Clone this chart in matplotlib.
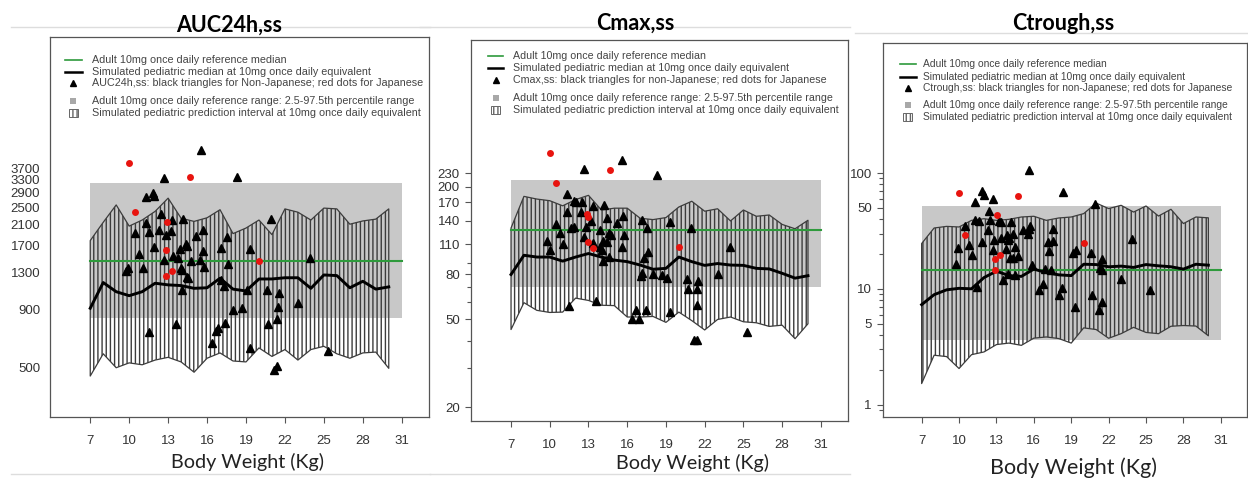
import matplotlib
matplotlib.use("Agg")
import matplotlib.pyplot as plt
from matplotlib.lines import Line2D
from matplotlib.patches import Rectangle
from matplotlib.ticker import NullFormatter

plt.rcParams["hatch.linewidth"] = 1.0
plt.rcParams["font.family"] = ["Liberation Sans", "DejaVu Sans"]

# ---- data ----
SIM_WT = [7, 8, 9, 10, 11, 12, 13, 14, 15, 16, 17, 18, 19, 20, 21, 22, 23, 24, 25, 26, 27, 28, 29, 30]
REF_X = [7, 31]
XTICKS = [7, 10, 13, 16, 19, 22, 25, 28, 31]

# AUC24h,ss
auc_upper = [1790, 2150, 2560, 2070, 2200, 2400, 2740, 2240, 2170, 2250, 2440, 1920,
             2030, 2200, 1900, 2460, 2380, 2200, 2480, 2460, 2110, 2180, 2220, 2460]
auc_lower = [460, 575, 500, 525, 515, 540, 555, 530, 478, 550, 580, 535,
             530, 610, 560, 600, 540, 600, 620, 575, 550, 580, 585, 497]
auc_median = [908, 1175, 1072, 1030, 1072, 1167, 1148, 1140, 1109, 1115, 1227, 1100,
              1080, 1218, 1218, 1233, 1233, 1109, 1268, 1260, 1115, 1190, 1100, 1125]
auc_ref = {"median": 1460, "lo": 826, "hi": 3200}
auc_jp_wt = [9.95, 14.7, 10.47, 12.95, 12.85, 19.99, 13.29, 12.85]
auc_jp_val = [3914, 3401, 2386, 2165, 1635, 1459, 1324, 1255]
auc_nj_wt = [15.57, 12.67, 18.29, 11.29, 11.8, 11.95, 12.42, 11.29, 13.31, 14.14, 20.91, 15.70,
             12.26, 13.21, 11.54, 10.47, 12.8, 15.16, 17.52, 14.44, 14.37, 11.88, 17.09, 19.32,
             13.93, 10.77, 15.65, 13.37, 13.8, 12.7, 15.47, 14.8, 23.94, 17.6, 15.78, 9.9,
             9.72, 11.03, 13.99, 14.08, 14.57, 14.47, 17.09, 17.29, 14.08, 19.06, 20.6, 21.53,
             23.04, 21.45, 17.99, 18.73, 21.4, 13.6, 20.7, 17.42, 16.88, 16.7, 11.49, 16.4,
             19.32, 25.35, 21.37, 21.19]
auc_nj_val = [4461, 3344, 3390, 2764, 2877, 2790, 2330, 2129, 2204, 2215, 2226, 1998,
              1984, 1977, 1943, 1925, 1889, 1883, 1855, 1701, 1725, 1683, 1660, 1652,
              1652, 1565, 1616, 1528, 1500, 1474, 1474, 1459, 1500, 1415, 1380, 1360,
              1324, 1365, 1360, 1330, 1234, 1245, 1211, 1135, 1086, 1095, 1095, 1053,
              954, 915, 889, 913, 812, 775, 775, 784, 742, 725, 713, 638,
              607, 593, 508, 489]
auc_yticks = [500, 900, 1300, 1700, 2100, 2500, 2900, 3300, 3700]

# Cmax,ss
cmax_upper = [130, 181, 176, 173, 164, 175, 183, 157, 160, 160, 144, 142,
              145, 162, 172, 155, 159, 140, 157, 147, 149, 135, 129, 141]
cmax_lower = [45, 59.6, 55, 53.8, 54, 62.5, 61, 58, 57.8, 51.3, 51.3, 51.6,
              48.5, 54, 49.4, 44.8, 50, 51.3, 48.8, 48.3, 46.5, 47.1, 40.9, 47.8]
cmax_median = [80, 97.8, 96, 96, 92, 96, 99.6, 96, 93, 91.5, 88.3, 84.5,
               85.3, 96, 91.5, 88, 89.7, 88.3, 88, 85.3, 84.8, 81, 77, 79]
cmax_ref = {"median": 128, "lo": 70.2, "hi": 214}
cmax_jp_wt = [10.02, 14.69, 10.48, 12.86, 13.0, 12.96, 13.32, 19.98]
cmax_jp_val = [285, 238, 209, 150, 146, 112.5, 106, 106.6]
cmax_nj_wt = [15.62, 12.68, 18.33, 11.31, 11.88, 12.03, 12.52, 13.32, 14.22, 11.31, 12.39, 15.70,
              14.43, 17.12, 19.32, 10.48, 15.21, 13.22, 20.91, 11.62, 11.85, 17.5, 13.89, 12.78,
              10.8, 15.78, 14.56, 14.74, 12.68, 9.76, 13.37, 14.1, 14.46, 23.93, 15.62, 11.05,
              13.92, 10.0, 17.58, 14.03, 14.61, 17.3, 14.12, 23.03, 17.04, 17.96, 18.71, 19.06,
              17.12, 20.6, 21.5, 20.7, 21.37, 21.37, 11.52, 13.58, 16.7, 17.47, 19.32, 16.39,
              16.9, 25.3, 21.17, 21.43]
cmax_nj_val = [266, 240, 227, 185, 173, 171, 170, 163, 165, 153, 153, 148,
               145, 141, 138, 136, 136.5, 140, 130, 130, 131, 130, 127, 131,
               123, 121, 123, 121, 117.8, 114, 111, 114, 112, 106.6, 106.6, 110,
               107, 103, 101, 103, 96, 94.8, 92, 80, 79, 80, 79.5, 77,
               81, 76, 75, 69, 68.6, 58, 57.6, 60.4, 55.2, 55.2, 54, 50,
               50, 43.8, 40.2, 40.2]
cmax_yticks = [20, 50, 80, 110, 140, 170, 200, 230]
cmax_yminor = [30, 40, 60, 70, 90]

# Ctrough,ss
ctr_upper = [24.6, 33.5, 34.6, 34.2, 39, 40.3, 39, 39.8, 41.7, 42.3, 39, 40.9,
             41.7, 44.6, 55, 49.3, 52.6, 46, 51.9, 42.5, 48.6, 36.6, 41.7, 41]
ctr_lower = [1.52, 2.67, 2.6, 2.05, 2.7, 2.85, 3.3, 3.4, 3.25, 3.75, 3.84, 3.72,
             3.4, 4.6, 4.45, 3.74, 4.1, 4.65, 4.2, 4.1, 4.75, 4.82, 4.77, 3.93]
ctr_median = [7.3, 8.9, 9.8, 10.1, 10.0, 12.5, 14.2, 13.0, 12.8, 14.8, 13.8, 13.2,
              13.0, 16.3, 16.2, 15.5, 15.7, 15.3, 16.2, 15.8, 15.5, 14.8, 16.3, 16.0]
ctr_ref = {"median": 14.4, "lo": 3.59, "hi": 51.9}
ctr_jp_wt = [9.99, 14.7, 13.01, 10.47, 19.99, 13.3, 12.88, 12.88]
ctr_jp_val = [67.6, 62.9, 43.1, 29, 24.9, 19.5, 18, 14.4]
ctr_nj_wt = [15.6, 11.81, 18.3, 12.0, 12.69, 11.28, 20.9, 12.43, 11.28, 11.6, 10.47, 12.46,
             13.23, 13.33, 14.16, 12.29, 15.15, 15.6, 15.7, 17.5, 15.5, 14.35, 13.81, 13.36,
             14.03, 12.8, 10.82, 11.86, 17.1, 17.55, 13.95, 14.5, 13.76, 12.69, 9.94, 17.2,
             19.16, 19.35, 23.9, 11.03, 20.6, 14.7, 14.1, 14.35, 21.48, 9.75, 15.82, 16.89,
             17.37, 21.48, 21.3, 13.95, 14.5, 13.55, 23.03, 16.7, 11.46, 18.25, 16.4, 25.3,
             17.98, 20.7, 21.43, 19.32, 21.22]
ctr_nj_val = [106.9, 69.5, 68.5, 64, 60, 56, 54.4, 46.7, 39, 38.5, 34.9, 39.5,
              38.5, 37.7, 37.7, 32, 32.4, 33, 34.9, 33, 30, 30, 29, 27.6,
              27.6, 26.6, 24, 25.4, 25.4, 26, 26.6, 23, 22.2, 21.8, 22.5, 21.1,
              20.5, 21.8, 26.7, 19.7, 20.2, 19.1, 18.5, 18.5, 18.2, 16.5, 16.2, 14.7,
              14.4, 14.6, 15.2, 13.3, 13.1, 12, 12.2, 11.1, 10.4, 10.2, 9.7, 9.8,
              8.8, 8.8, 7.7, 6.9, 6.5]
ctr_yticks = [1, 5, 10, 50, 100]
ctr_yminor = [0.9, 2, 3, 4, 6, 7, 8, 9, 20, 30, 40, 60, 70, 80, 90]

# ---- style ----
GREY = "#c8c8c8"
GREEN = "#2e9a3c"
EDGE = "#3c3c3c"
SPINE = "#555555"
TXT = "#444444"
TITLE_FONT = ["Lato", "DejaVu Sans"]

W, H = 1248, 480
fig = plt.figure(figsize=(W / 100, H / 100), dpi=100)


def px_axes(left, top, right, bottom):
    return fig.add_axes([left / W, 1 - bottom / H, (right - left) / W, (bottom - top) / H])


def draw_key(ax, name, hx0, hx1, tx, rows, size):
    labels = [
        "Adult 10mg once daily reference median",
        "Simulated pediatric median at 10mg once daily equivalent",
        f"{name}: black triangles for {'Non' if name.startswith('AUC') else 'non'}-Japanese; red dots for Japanese",
        "Adult 10mg once daily reference range: 2.5-97.5th percentile range",
        "Simulated pediatric prediction interval at 10mg once daily equivalent",
    ]
    tr = ax.transAxes
    mid = (hx0 + hx1) / 2
    ax.plot([hx0, hx1], [rows[0]] * 2, color=GREEN, lw=1.2, transform=tr, clip_on=False)
    ax.plot([hx0, hx1], [rows[1]] * 2, color="k", lw=1.8, transform=tr, clip_on=False)
    ax.plot([mid], [rows[2]], marker="^", color="k", ms=5, transform=tr, clip_on=False)
    sq_w, sq_h = 6 / ax.bbox.width, 6 / ax.bbox.height
    ax.add_patch(Rectangle((mid - sq_w / 2, rows[3] - sq_h / 2), sq_w, sq_h,
                           transform=tr, color="#a8a8a8", lw=0, clip_on=False))
    hw, hh = 9 / ax.bbox.width, 8 / ax.bbox.height
    ax.add_patch(Rectangle((mid - hw / 2, rows[4] - hh / 2), hw, hh, transform=tr,
                           facecolor="white", edgecolor="#666666", hatch="||||", lw=0.7,
                           clip_on=False))
    for y, lab in zip(rows, labels):
        ax.text(tx, y, lab, transform=tr, fontsize=size, color=TXT, va="center", ha="left")


def draw_panel(ax, upper, lower, median, ref, nj_wt, nj_val, jp_wt, jp_val,
               ylim, yticks, yminor, tick_len):
    ax.set_yscale("log")
    ax.fill_between(REF_X, ref["lo"], ref["hi"], color=GREY, lw=0, zorder=1)
    ax.fill_between(SIM_WT, lower, upper, facecolor="none", edgecolor=EDGE,
                    hatch="||||", lw=0.9, zorder=2)
    ax.plot(REF_X, [ref["median"]] * 2, color=GREEN, lw=1.5, zorder=3)
    ax.plot(SIM_WT, median, color="k", lw=2.1, zorder=4)
    ax.plot(nj_wt, nj_val, ls="none", marker="^", color="k", ms=5.5, zorder=5)
    ax.plot(jp_wt, jp_val, ls="none", marker="o", color="#e8140f", mec="none", ms=5, zorder=6)

    ax.set_xlim(3.9, 33.1)
    ax.set_ylim(*ylim)
    ax.set_xticks(XTICKS)
    ax.set_yticks(yticks, [str(t) for t in yticks])
    ax.set_yticks(yminor, minor=True)
    ax.yaxis.set_minor_formatter(NullFormatter())
    ax.tick_params(axis="x", length=4, width=0.8, color=SPINE, pad=9,
                   labelsize=9.5, labelcolor="#333333")
    ax.tick_params(axis="y", which="major", length=tick_len, width=0.8, color=SPINE,
                   pad=4 if tick_len else 7, labelsize=9.5, labelcolor="#333333")
    ax.tick_params(axis="y", which="minor", length=tick_len * 0.8, width=0.8, color=SPINE)
    for sp in ax.spines.values():
        sp.set_color(SPINE)
        sp.set_linewidth(0.9)


ax1 = px_axes(50, 37, 429, 417)
draw_panel(ax1, auc_upper, auc_lower, auc_median, auc_ref, auc_nj_wt, auc_nj_val,
           auc_jp_wt, auc_jp_val, (305, 13800), auc_yticks, [], 0)
draw_key(ax1, "AUC24h,ss", 0.040, 0.084, 0.111, [0.940, 0.909, 0.878, 0.832, 0.799], 7.75)

ax2 = px_axes(471, 40, 848, 421)
draw_panel(ax2, cmax_upper, cmax_lower, cmax_median, cmax_ref, cmax_nj_wt, cmax_nj_val,
           cmax_jp_wt, cmax_jp_val, (17.3, 928), cmax_yticks, cmax_yminor, 4)
draw_key(ax2, "Cmax,ss", 0.046, 0.086, 0.112, [0.958, 0.926, 0.895, 0.849, 0.816], 7.65)

ax3 = px_axes(883, 43, 1247, 417)
draw_panel(ax3, ctr_upper, ctr_lower, ctr_median, ctr_ref, ctr_nj_wt, ctr_nj_val,
           ctr_jp_wt, ctr_jp_val, (0.782, 1326), ctr_yticks, ctr_yminor, 4)
draw_key(ax3, "Ctrough,ss", 0.046, 0.090, 0.110, [0.943, 0.910, 0.879, 0.835, 0.803], 7.4)

# panel titles and x labels (placed like the slide text boxes)
for x, y, t in [(229, 25, "AUC24h,ss"), (635, 23, "Cmax,ss"), (1063, 24, "Ctrough,ss")]:
    fig.text(x / W, 1 - y / H, t, family=TITLE_FONT, fontweight="bold", fontsize=15.5,
             ha="center", va="center", color="black")
for x, y, size in [(248, 462, 14.2), (693, 463, 14.2), (1074, 468, 15.5)]:
    fig.text(x / W, 1 - y / H, "Body Weight (Kg)", family=TITLE_FONT, fontsize=size,
             ha="center", va="center", color="#222222")

# faint slide separators
for x0, x1, y in [(11, 430, 27), (420, 850, 27), (855, 1248, 33), (11, 430, 474), (430, 850, 474)]:
    fig.add_artist(Line2D([x0 / W, x1 / W], [1 - y / H] * 2, color="#dddddd", lw=1))

fig.savefig("out.png", dpi=100)
